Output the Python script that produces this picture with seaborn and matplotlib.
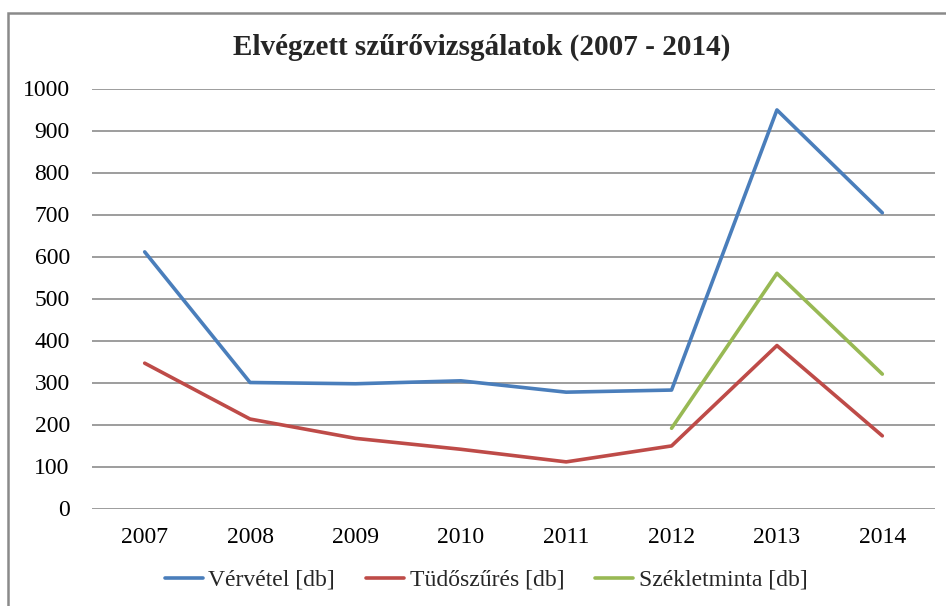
import matplotlib
matplotlib.use("Agg")
import matplotlib.pyplot as plt
import seaborn as sns
import pandas as pd
import numpy as np
from matplotlib.lines import Line2D
from matplotlib.patches import Rectangle

years = ["2007", "2008", "2009", "2010", "2011", "2012", "2013", "2014"]
vervetel = [611, 300, 297, 304, 277, 282, 949, 704]
tudoszures = [346, 213, 167, 141, 111, 149, 388, 173]
szekletminta = [np.nan, np.nan, np.nan, np.nan, np.nan, 191, 560, 320]
series_names = ["Vérvétel [db]", "Tüdőszűrés [db]", "Székletminta [db]"]
colors = ["#4A7EBB", "#BE4B48", "#98B954"]
title = "Elvégzett szűrővizsgálatok (2007 - 2014)"

rows = []
for name, vals in zip(series_names, [vervetel, tudoszures, szekletminta]):
    for i, v in enumerate(vals):
        rows.append({"idx": i, "year": years[i], "value": v, "series": name})
df = pd.DataFrame(rows).dropna()

sns.set_style("white")
plt.rcParams["font.family"] = ["Liberation Serif", "DejaVu Serif"]

fig = plt.figure(figsize=(9.46, 6.06), dpi=100)
ax = fig.add_axes([92 / 946, 1 - 508.5 / 606, (935 - 92) / 946, (508.5 - 88.5) / 606])

sns.lineplot(data=df, x="idx", y="value", hue="series", hue_order=series_names,
             palette=colors, linewidth=2.6, ax=ax, legend=False, sort=True)

ax.set_xlim(-0.5, len(years) - 0.5)
ax.set_ylim(0, 1000)
ax.set_yticks(range(0, 1001, 100))
ax.set_xticks(range(len(years)))
ax.set_xticklabels(years)
ax.set_xlabel("")
ax.set_ylabel("")
for s in ax.spines.values():
    s.set_visible(False)
ax.grid(axis="y", color="#8c8c8c", linewidth=1.2)
ax.set_axisbelow(True)
ax.tick_params(axis="both", length=0, labelsize=17, colors="#000000")
ax.tick_params(axis="y", pad=16)
ax.tick_params(axis="x", pad=13)

fig.text(482 / 946, 1 - 47 / 606, title, ha="center", va="center", fontsize=21, fontweight="bold")

handles = [Line2D([0], [0], color=c, linewidth=2.6) for c in colors]
fig.legend(handles, series_names, loc="center", bbox_to_anchor=(486 / 946, 1 - 580 / 606),
           ncol=3, frameon=False, fontsize=17, handlelength=1.6, handletextpad=0.25,
           columnspacing=1.3)

fig.patches.append(Rectangle((8 / 946, -0.1), 1.2, 1 - 13 / 606 + 0.1, transform=fig.transFigure,
                             fill=False, edgecolor="#8a8a8a", linewidth=1.8))

fig.savefig("out.png", dpi=100)
